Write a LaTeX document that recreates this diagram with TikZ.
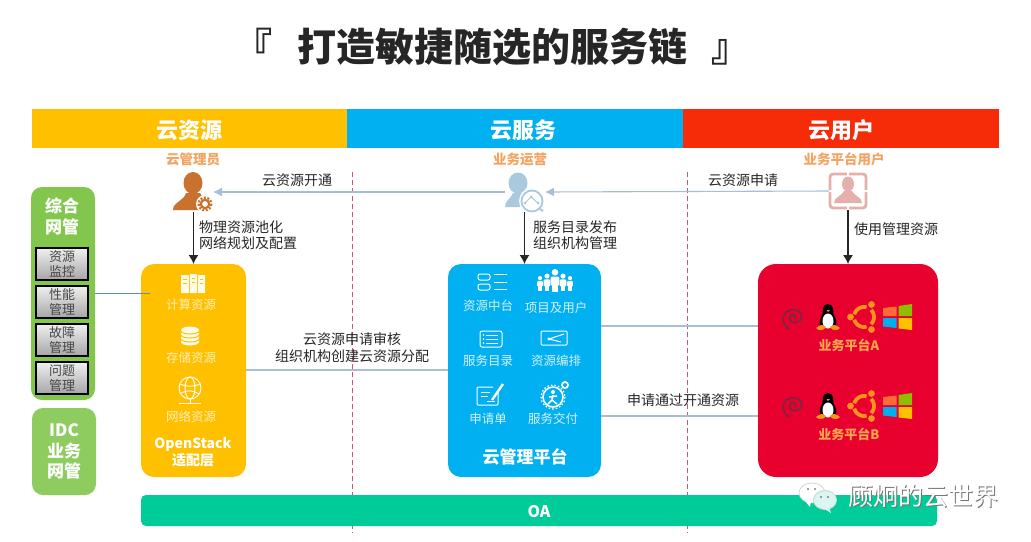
\documentclass[tikz,border=0pt]{standalone}
\usepackage{fontspec}
\setmainfont{Noto Sans CJK SC}
\newcommand\fs[1]{\fontsize{#1}{#1}\selectfont}
\newcommand\fsk[2]{\fontsize{#1}{#2}\selectfont}
\newcommand\lowered[2]{\raisebox{-#1}[0pt][0pt]{#2}}
\definecolor{barY}{HTML}{FFC000}
\definecolor{barB}{HTML}{00B0F0}
\definecolor{barR}{HTML}{F62B08}
\definecolor{panelR}{HTML}{E8002F}
\definecolor{oagreen}{HTML}{00CC99}
\definecolor{lgreen}{HTML}{82C64E}
\definecolor{subor}{HTML}{F4A460}
\definecolor{linkblue}{HTML}{A9BDD6}
\definecolor{linkdeep}{HTML}{5B8CC4}
\definecolor{paleY}{HTML}{FFEDB5}
\definecolor{paleB}{HTML}{D5F1FD}
\definecolor{ink}{HTML}{262626}
\definecolor{dashc}{HTML}{C8596A}
\definecolor{admin}{HTML}{C9722F}
\definecolor{opsc}{HTML}{A9C9DC}
\definecolor{userc}{HTML}{E3B0AC}
\definecolor{ubu}{HTML}{F7931E}
\definecolor{swirlc}{HTML}{6F2A3F}
\definecolor{winO}{HTML}{FF6B35}
\definecolor{winG}{HTML}{8DBE00}
\definecolor{winB}{HTML}{00AEEF}
\definecolor{winY}{HTML}{FFC000}
\definecolor{rlab}{HTML}{FFA64D}
\usetikzlibrary{arrows.meta}
\tikzset{
  x=1pt,y=-1pt,
  every node/.style={inner sep=0pt,outer sep=0pt},
  headbar/.style={minimum height=39pt,text=white,font=\fs{22}\bfseries},
  sublabel/.style={text=subor,font=\fs{13.5}\bfseries},
  note/.style={text=ink,font=\fsk{14}{16.5},align=left},
  notec/.style={text=ink,font=\fsk{14}{17},align=center},
  ylabel/.style={text=paleY,font=\fs{12.5},yshift=-1pt},
  blabel/.style={text=paleB,font=\fs{12.5},yshift=-1pt},
  ytitle/.style={text=white,font=\fsk{14}{17}\bfseries,align=center},
  rlabel/.style={text=rlab,font=\fs{13}\bfseries},
  greybox/.style={draw=black,line width=1.1pt,top color=gray!12,bottom color=gray!70,minimum width=52pt,minimum height=32pt,text=ink!85,font=\fsk{13}{15.5},align=center},
  link/.style={linkblue,line width=1.1pt},
  linkb/.style={link,-{Latex[length=9pt,width=9pt]}},
  flow/.style={ink,line width=1.2pt,-{Latex[length=9pt,width=10pt]}},
  sepline/.style={dashc,line width=1pt,dash pattern=on 5pt off 3pt},
  iconline/.style={white,line width=1pt},
  region/.style={rectangle,minimum size=0pt}
}
\newcommand\tux[2]{\begin{scope}[shift={(#1,#2)}]
  \fill[black] (0,-13) .. controls (-6,-13) and (-5,-6) .. (-5.5,-3) .. controls (-9,3) and (-9,8) .. (-7,10) -- (7,10) .. controls (9,8) and (9,3) .. (5.5,-3) .. controls (5,-6) and (6,-13) .. (0,-13) -- cycle;
  \fill[white] (0,4) ellipse (5.5 and 7.5);
  \fill[ubu] (-1.5,-7) -- (2,-7) -- (0,-5) -- cycle;
  \fill[ubu] (-2,10) .. controls (-6,6) and (-9,9) .. (-12,11) .. controls (-10,14) and (-4,14) .. (-2,10) -- cycle;
  \fill[ubu] (2,10) .. controls (6,6) and (9,9) .. (12,11) .. controls (10,14) and (4,14) .. (2,10) -- cycle;
\end{scope}}
\newcommand\ubuntu[2]{\begin{scope}[shift={(#1,#2)}]
  \draw[ubu,line width=3.8pt] plot[domain=195:285,samples=16] ({10*cos(\x)},{10*sin(\x)});
  \draw[ubu,line width=3.8pt] plot[domain=-45:45,samples=16] ({10*cos(\x)},{10*sin(\x)});
  \draw[ubu,line width=3.8pt] plot[domain=75:165,samples=16] ({10*cos(\x)},{10*sin(\x)});
  \fill[ubu] (-13.5,0) circle (3.4) (7.5,-12.5) circle (3.4) (7.5,12.5) circle (3.4);
\end{scope}}
\newcommand\winlogo[2]{\begin{scope}[shift={(#1,#2)}]
  \fill[winO] (-14.5,-9) -- (-1,-10.5) -- (-1,-1) -- (-14.5,-1) -- cycle;
  \fill[winG] (1,-11) -- (14.5,-13) -- (14.5,-1) -- (1,-1) -- cycle;
  \fill[winB] (-14.5,1) -- (-1,1) -- (-1,11) -- (-14.5,9.5) -- cycle;
  \fill[winY] (1,1) -- (14.5,1) -- (14.5,13) -- (1,11.5) -- cycle;
\end{scope}}
\newcommand\swirl[2]{\begin{scope}[shift={(#1,#2)},scale=1.1]
  \draw[swirlc,line width=1.5pt] (2,1) .. controls (4,-4) and (-3,-5) .. (-3,0) .. controls (-3,6) and (7,6) .. (8,-1) .. controls (8,-9) and (-8,-11) .. (-9,1) .. controls (-9,5) and (-6,9) .. (-3,10);
\end{scope}}
\begin{document}
\begin{tikzpicture}
\useasboundingbox (0,0) rectangle (1031,541);
\fill[white] (0,0) rectangle (1031,541);

% title
\node[text=ink,font=\fs{39}\bfseries] (title) at (492,47) {『\hspace{25pt}打造敏捷随选的服务链\hspace{25pt}』};

% header bars
\node[headbar,fill=barY,minimum width=315pt] (hres) at (189.5,128.5) {\lowered{10pt}{云资源}};
\node[headbar,fill=barB,minimum width=336pt] (hsvc) at (515,128.5) {\hspace*{16pt}\lowered{10pt}{云服务}};
\node[headbar,fill=barR,minimum width=316pt] (husr) at (841,128.5) {\lowered{10pt}{云用户}};

\node[sublabel] (ladmin) at (193,159) {云管理员};
\node[sublabel] (lops) at (520,159) {业务运营};
\node[sublabel] (luser) at (844,159) {业务平台用户};

% separators
\draw[sepline] (352,172) coordinate (s1a) -- (352,533) coordinate (s1b);
\draw[sepline] (687,172) coordinate (s2a) -- (687,533) coordinate (s2b);

% panels
\node[fill=barY,rounded corners=13pt,minimum width=105pt,minimum height=213pt] (yp) at (193.5,370.5) {};
\node[fill=barB,rounded corners=13pt,minimum width=153pt,minimum height=213pt] (bp) at (524.5,370.5) {};
\node[fill=panelR,rounded corners=18pt,minimum width=180pt,minimum height=213pt] (rp) at (848,370.5) {};
\node[fill=oagreen,rounded corners=5pt,minimum width=796pt,minimum height=31pt,text=white,font=\fs{16}\bfseries] (oa) at (539,510.5) {\lowered{7.3pt}{OA}};

% left panels
\node[fill=lgreen,rounded corners=11pt,minimum width=64pt,minimum height=213pt] (nm) at (63,293.5) {};
\node[fill=lgreen!90!white,rounded corners=11pt,minimum width=64pt,minimum height=87pt,text=white,font=\fsk{17}{20.5}\bfseries,align=center] (idc) at (64,451.5) {IDC\\业务\\网管};
\node[text=white,font=\fsk{17}{21}\bfseries,align=center] (nmt) at (62,216) {综合\\网管};
\node[greybox] (b1) at (62,264) {资源\\监控};
\node[greybox] (b2) at (62,302) {性能\\管理};
\node[greybox] (b3) at (62,340) {故障\\管理};
\node[greybox] (b4) at (62,378) {问题\\管理};

% people nodes
\node[region,minimum width=38pt,minimum height=40pt] (nadmin) at (194,192) {};
\node[region,minimum width=40pt,minimum height=40pt] (nops) at (525,192) {};
\node[region,minimum width=38pt,minimum height=38pt] (nuser) at (848,191) {};

% admin icon
\fill[admin] (193,183) ellipse (9.5 and 11);
\fill[admin] (173,210) .. controls (173,202) and (184,201) .. (186,193) -- (200,193) .. controls (202,198) and (206,198) .. (206,200) -- (199,210) -- cycle;
\fill[white] (205,204) circle (9);
\draw[admin,line width=2.2pt] (205,204) circle (4.2);
\draw[admin,line width=2.2pt,dash pattern=on 2pt off 1.6pt] (205,204) circle (6.4);

% ops icon
\fill[opsc] (518,183) ellipse (9.5 and 10.5);
\fill[opsc] (505,207) .. controls (505,200) and (511,199) .. (513,193) -- (524,193) -- (527,199) -- (522,207) -- cycle;
\fill[white] (532,201) circle (13);
\draw[opsc,line width=1.8pt] (532,201) circle (10.5);
\draw[opsc,line width=2pt] (540,209) -- (543,211);
\draw[opsc,line width=1pt] (525,203) -- (531,197) -- (538,203);
\fill[opsc] (525,203) circle (1.5) (531,197) circle (1.5) (538,203) circle (1.5);

% user icon
\draw[userc,line width=2.8pt,rounded corners=3pt] (830,174) rectangle (866,208);
\fill[white] (825,190) rectangle (835,192) (861,190) rectangle (871,192) (847,170) rectangle (849,178) (847,204) rectangle (849,212);
\fill[userc] (848,184) ellipse (6 and 7.5);
\fill[userc] (834,203) .. controls (834,197) and (842,196) .. (844,191) -- (852,191) .. controls (854,196) and (862,197) .. (862,203) -- cycle;

% connectors
\draw[linkb] (nops.west) -- (nadmin.east);
\draw[linkb] (nuser.west) -- (nops.east);
\draw[flow] (nadmin.south -| yp.north) -- (yp.north);
\draw[flow] (nops.south -| bp.north) -- (bp.north);
\draw[flow] (nuser.south -| rp.north) -- (rp.north);
\coordinate (pin) at (150,293.5);
\draw[line width=1.1pt,linkdeep] (nm.east |- pin) -- (pin);
\coordinate (r1) at (0,370);
\coordinate (r2) at (0,326);
\coordinate (r3) at (0,416);
\draw[link] (yp.east |- r1) -- (bp.west |- r1);
\draw[link] (bp.east |- r2) -- (rp.west |- r2);
\draw[link] (bp.east |- r3) -- (rp.west |- r3);

% labels
\node[notec] (n1) at (297,180) {云资源开通};
\node[note,anchor=west] (n2) at (199,235) {物理资源池化\\网络规划及配置};
\node[note,anchor=west] (n3) at (533,235) {服务目录发布\\组织机构管理};
\node[notec] (n4) at (743,180) {云资源申请};
\node[note,anchor=west] (n5) at (854,229) {使用管理资源};
\node[notec] (n6) at (352,348) {云资源申请审核\\组织机构创建云资源分配};
\node[notec] (n7) at (683,400) {申请通过开通资源};

% yellow panel
\begin{scope}[shift={(193,284)}]
  \fill[white!70!paleY] (-12,-9) rectangle (-4,9) (-3,-10) rectangle (4,9) (5,-9) rectangle (12,9);
  \draw[barY,line width=.8pt] (-10,-5) -- (-6,-5) (-10,-1) -- (-6,-1) (-1,-6) -- (2,-6) (-1,-2) -- (2,-2) (7,-5) -- (10,-5) (7,-1) -- (10,-1);
\end{scope}
\node[ylabel] (y1) at (191,304) {计算资源};
\begin{scope}[shift={(190,336)}]
  \fill[white!70!paleY] (-9,-6) -- (-9,6) arc[start angle=180,end angle=0,x radius=9,y radius=3.5] -- (9,-6) arc[start angle=0,end angle=-180,x radius=9,y radius=3.5] -- cycle;
  \draw[barY,line width=1pt] (-9,-5) arc[start angle=180,end angle=0,x radius=9,y radius=3] (-9,-1) arc[start angle=180,end angle=0,x radius=9,y radius=3] (-9,3) arc[start angle=180,end angle=0,x radius=9,y radius=3];
\end{scope}
\node[ylabel] (y2) at (191,357) {存储资源};
\begin{scope}[shift={(190,388)},white!70!paleY,line width=1pt]
  \draw (0,0) circle (11);
  \draw (0,0) ellipse (5 and 11) (-10,-4) .. controls (-3,-1) and (3,-1) .. (10,-4) (-9,5) .. controls (-3,2) and (3,2) .. (9,6);
  \draw (0,11) -- (0,15) (-11,15) -- (11,15);
\end{scope}
\node[ylabel] (y3) at (191,416) {网络资源};
\node[ytitle] (y4) at (193,452) {OpenStack\\适配层};

% blue panel
\begin{scope}[iconline]
  \draw[rounded corners=2pt] (478,274) rectangle (490,280) (478,284) rectangle (490,290);
  \draw (494,274.5) -- (507,274.5) (494,282) -- (507,282) (494,289.5) -- (507,289.5);
\end{scope}
\node[blabel] (b1t) at (488,305) {资源中台};
\begin{scope}[white]
  \foreach \px/\py/\ps in {540/283/.7,547/282/.85,563/282/.85,570/283/.7,555/280/1.1}{
    \fill (\px,\py-\ps*7) circle (\ps*3);
    \fill[rounded corners=1pt] (\px-\ps*4,\py-\ps*3) rectangle (\px+\ps*4,\py+\ps*5);
    \fill (\px-\ps*2.6,\py+\ps*4) rectangle (\px+\ps*2.6,\py+\ps*11);
  }
\end{scope}
\node[blabel] (b2t) at (556,307) {项目及用户};
\begin{scope}[iconline]
  \draw[rounded corners=2pt] (480,331) rectangle (502,347);
  \draw (486,335) -- (498,335) (486,339) -- (498,339) (486,343) -- (498,343);
  \fill[white] (483.5,335) circle (.8) (483.5,339) circle (.8) (483.5,343) circle (.8);
\end{scope}
\node[blabel] (b3t) at (488,360) {服务目录};
\begin{scope}[iconline]
  \draw[rounded corners=1pt] (541,331) rectangle (567,345);
  \draw (564,334) -- (549,339) -- (561,342);
  \fill[white] (549,339) circle (1.6);
\end{scope}
\node[blabel] (b4t) at (556,360) {资源编排};
\begin{scope}[iconline]
  \draw[rounded corners=1pt] (498,392) -- (498,405) -- (477,405) -- (477,387) -- (493,387);
  \draw (481,392) -- (490,392) (481,396) -- (488,396) (487,401) -- (495,401);
  \draw[line width=2.4pt] (492,400) -- (503,384);
\end{scope}
\node[blabel] (b5t) at (488,418) {申请单};
\begin{scope}[iconline]
  \draw[line width=1.6pt] (553,397) circle (10);
  \draw[line width=1.2pt,dash pattern=on 1.6pt off 2pt] (553,397) circle (12);
  \fill[white] (553,392) circle (2);
  \draw[line width=1.6pt] (553,395) -- (552,400) -- (548,404) (552,400) -- (557,404) (549,397) -- (557,396);
  \fill[white] (565,385) circle (4);
  \fill[barB] (565,385) circle (2);
\end{scope}
\node[blabel] (b6t) at (553,418) {服务交付};
\node[text=white,font=\fs{17}\bfseries] (b7t) at (525,457) {云管理平台};

% red panel
\swirl{793}{318}\tux{828}{317}\ubuntu{864}{317}\winlogo{897.5}{317}
\node[rlabel] (ra) at (849,345) {业务平台A};
\swirl{793}{406}\tux{828}{406}\ubuntu{864}{406}\winlogo{897.5}{406}
\node[rlabel] (rb) at (849,434) {业务平台B};

% watermark
\begin{scope}[shift={(818,497)}]
  \filldraw[fill=white,draw=gray!40,line width=.6pt] (-6,-4) ellipse (13 and 10);
  \fill[white] (-13,4) -- (-8,10) -- (-7,4) -- cycle;
  \fill[gray!35] (7,3) ellipse (12 and 10);
  \fill[white!85!oagreen] (7,3) ellipse (11 and 9);
  \fill[white!85!oagreen] (11,10) -- (13,16) -- (5,11) -- cycle;
  \fill[gray] (-10,-8) circle (1.2) (-3,-8) circle (1.2) (3,0) circle (1.2) (10,0) circle (1.2);
\end{scope}
\node[text=black!55,font=\fs{25}] (wms) at (924,497) {顾炯的云世界};
\node[text=white,font=\fs{25}] (wm) at (923,496) {顾炯的云世界};
\end{tikzpicture}
\end{document}
